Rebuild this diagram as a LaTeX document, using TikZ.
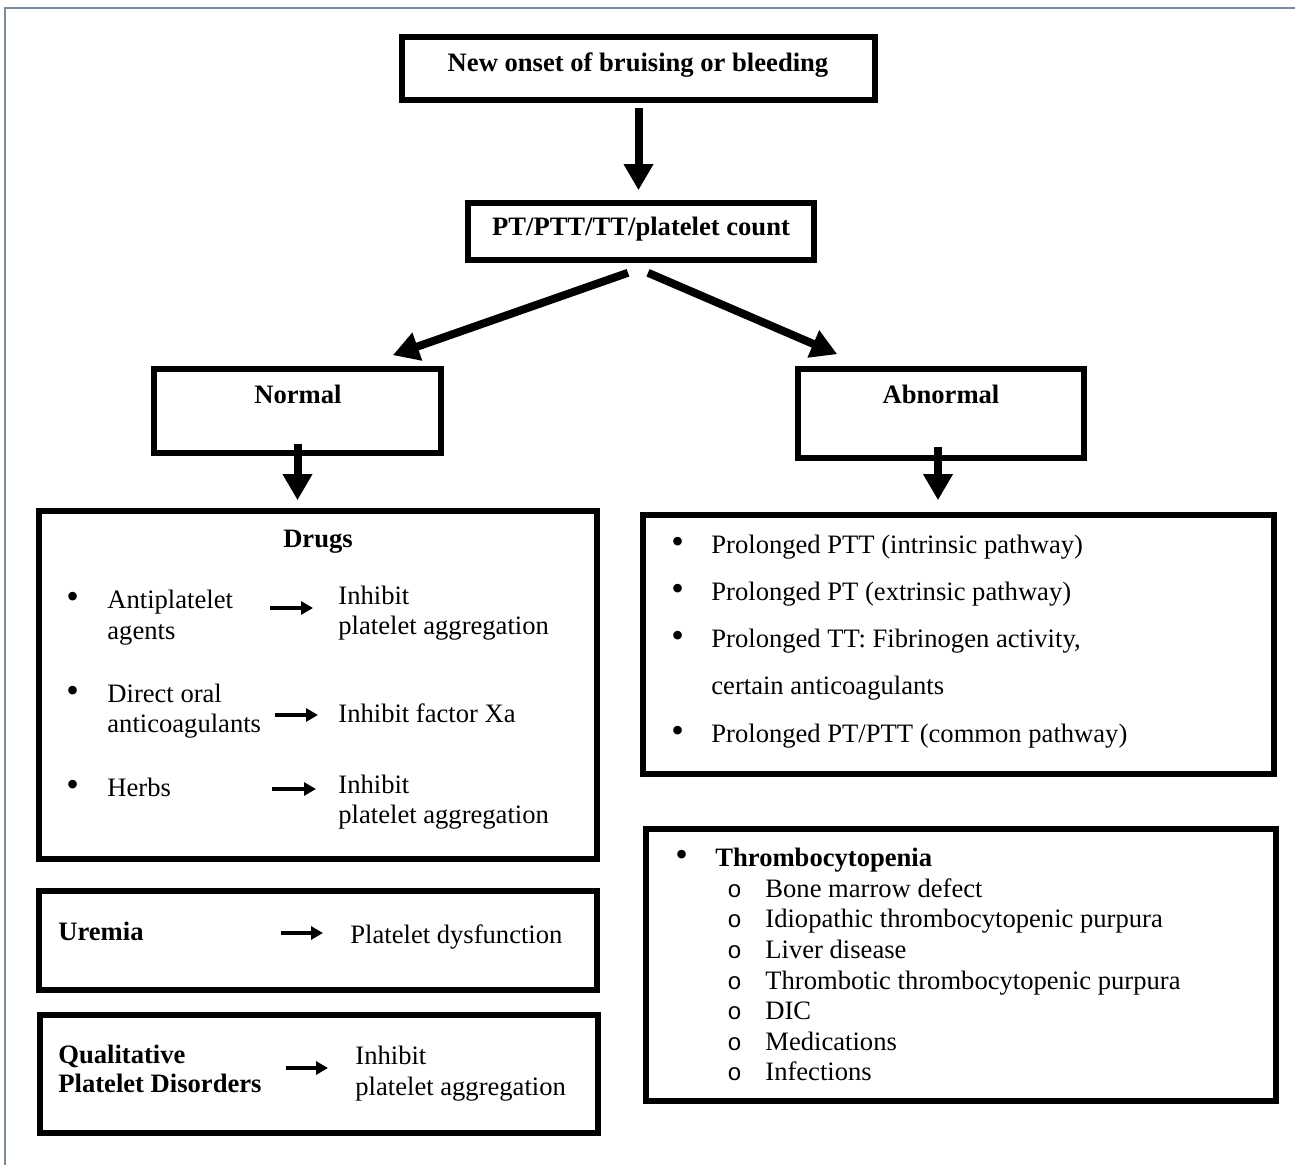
\documentclass[tikz,border=0pt]{standalone}
\usepackage{fontspec}
\setmainfont{Liberation Serif}
\newfontfamily\monof{Liberation Mono}
\usetikzlibrary{arrows.meta,calc}
\definecolor{framecol}{RGB}{122,138,152}
\newcommand{\bigbul}{\scalebox{1.35}{\textbullet}}
\tikzset{
  box/.style={draw=black, line width=2.8pt, rectangle, inner sep=0pt},
  txt/.style={inner sep=0pt, anchor=base west, font=\fontsize{13.3}{15}\selectfont},
  btxt/.style={txt, font=\fontsize{13.3}{15}\selectfont\bfseries},
  ctxt/.style={btxt, anchor=base},
  bigarrow/.style={line width=4pt, -{Triangle[width=14pt,length=13pt]}},
  smallarrow/.style={line width=2pt, -{Triangle[width=6.5pt,length=6pt]}},
  frame/.style={draw=framecol, line width=1pt}
}
\begin{document}
\begin{tikzpicture}[x=0.5pt,y=-0.5pt]
\useasboundingbox (0,0) rectangle (1295,1165);
% outer frame (only top and left edges visible)
\draw[frame] (1295,8) -- (5,8) -- (5,1165);

% boxes
\node[box, minimum width=236.5pt, minimum height=31.5pt] (b1) at (638.5,68.5) {};
\node[box, minimum width=173pt, minimum height=28.5pt] (b2) at (641,231.5) {};
\node[box, minimum width=143.5pt, minimum height=42pt] (normal) at (297.5,411) {};
\node[box, minimum width=143pt, minimum height=44.5pt] (abnormal) at (941,413.5) {};
\node[box, minimum width=279pt, minimum height=174pt] (drugs) at (318,685) {};
\node[box, minimum width=279pt, minimum height=49.5pt] (uremia) at (318,940.5) {};
\node[box, minimum width=279pt, minimum height=59pt] (qual) at (319,1074) {};
\node[box, minimum width=315.5pt, minimum height=129.5pt] (prol) at (958.5,644.5) {};
\node[box, minimum width=315pt, minimum height=136pt] (thr) at (961,965) {};

% top texts
\node[ctxt] (t1) at (638,72) {New onset of bruising or bleeding};
\node[ctxt] (t2) at (641,236) {PT/PTT/TT/platelet count};
\node[ctxt] (tn) at (298,404) {Normal};
\node[ctxt] (ta) at (941,404) {Abnormal};

% main arrows
\draw[bigarrow] ([yshift=-2.5pt]b1.south) -- ([yshift=5pt]b1.south |- b2.north);
\draw[bigarrow] ($(b2.south)+(-13,10)$) -- ($(normal.north east)+(-51,-11)$);
\draw[bigarrow] ($(b2.south)+(7,10)$) -- ($(abnormal.north west)+(42,-12)$);
\draw[bigarrow] ([yshift=6pt]normal.south) -- ([yshift=4pt]normal.south |- drugs.north);
\draw[bigarrow] ([yshift=7pt,xshift=-1.5pt]abnormal.south) -- ([yshift=6pt,xshift=-1.5pt]abnormal.south |- prol.north);

% Drugs box
\node[ctxt] (dh) at (318,547) {Drugs};
\node[txt] (db1) at (66,608) {\bigbul};
\node[txt] (d1a) at (107,608) {Antiplatelet};
\node[txt] (d1b) at (107,639) {agents};
\node[txt] (r1a) at (338,604) {Inhibit};
\node[txt] (r1b) at (338,634) {platelet aggregation};
\node[txt] (db2) at (66,702) {\bigbul};
\node[txt] (d2a) at (107,702) {Direct oral};
\node[txt] (d2b) at (107,732) {anticoagulants};
\node[txt] (r2) at (338,722) {Inhibit factor Xa};
\node[txt] (db3) at (66,796) {\bigbul};
\node[txt] (d3) at (107,796) {Herbs};
\node[txt] (r3a) at (338,793) {Inhibit};
\node[txt] (r3b) at (338,823) {platelet aggregation};
\coordinate (s1) at (270,608); \coordinate (e1) at (313,608);
\coordinate (s2) at (275,715); \coordinate (e2) at (318,715);
\coordinate (s3) at (272,789); \coordinate (e3) at (316,789);
\draw[smallarrow] (s1) -- (e1);
\draw[smallarrow] (s2) -- (e2);
\draw[smallarrow] (s3) -- (e3);

% Uremia box
\node[btxt] (u1) at (58,940) {Uremia};
\node[txt] (u2) at (350,943) {Platelet dysfunction};
\coordinate (s4) at (281,933); \coordinate (e4) at (323,933);
\draw[smallarrow] (s4) -- (e4);

% Qualitative box
\node[btxt] (q1a) at (58,1063) {Qualitative};
\node[btxt] (q1b) at (58,1092) {Platelet Disorders};
\node[txt] (q2a) at (355,1064) {Inhibit};
\node[txt] (q2b) at (355,1095) {platelet aggregation};
\coordinate (s5) at (286,1068); \coordinate (e5) at (328,1068);
\draw[smallarrow] (s5) -- (e5);

% Prolonged box
\node[txt] (pb1) at (671,553) {\bigbul};
\node[txt] (p1) at (711,553) {Prolonged PTT (intrinsic pathway)};
\node[txt] (pb2) at (671,600) {\bigbul};
\node[txt] (p2) at (711,600) {Prolonged PT (extrinsic pathway)};
\node[txt] (pb3) at (671,647) {\bigbul};
\node[txt] (p3a) at (711,647) {Prolonged TT: Fibrinogen activity,};
\node[txt] (p3b) at (711,694) {certain anticoagulants};
\node[txt] (pb4) at (671,742) {\bigbul};
\node[txt] (p4) at (711,742) {Prolonged PT/PTT (common pathway)};

% Thrombocytopenia box
\node[txt] (hb) at (675,866) {\bigbul};
\node[btxt] (h0) at (715,866) {Thrombocytopenia};
\foreach \nm/\yy/\tx in {h1/897/Bone marrow defect, h2/927/Idiopathic thrombocytopenic purpura, h3/958/Liver disease, h4/989/Thrombotic thrombocytopenic purpura, h5/1019/DIC, h6/1050/Medications, h7/1080/Infections}{
  \node[txt, font=\fontsize{12}{15}\selectfont\monof] (\nm o) at (727,\yy) {o};
  \node[txt] (\nm) at (765,\yy) {\tx};
}
\end{tikzpicture}
\end{document}
